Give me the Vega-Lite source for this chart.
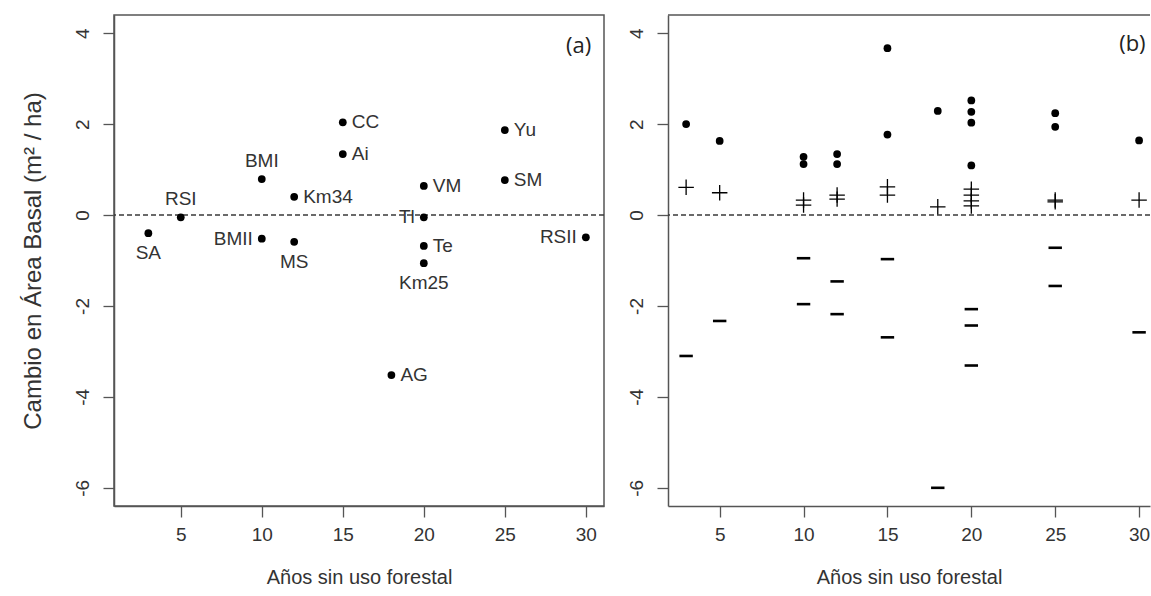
{
  "$schema": "https://vega.github.io/schema/vega-lite/v6.json",
  "background": "white",
  "padding": {"left": 20, "top": 14, "right": 0, "bottom": 0},
  "spacing": 20,
  "config": {
    "font": "Liberation Sans",
    "view": {"stroke": "#555555", "strokeWidth": 1.5},
    "axis": {
      "grid": false,
      "domain": true,
      "domainColor": "#555555",
      "domainWidth": 1.5,
      "tickColor": "#555555",
      "tickWidth": 1.3,
      "tickSize": 11,
      "labelFont": "Liberation Sans",
      "labelFontSize": 19,
      "labelColor": "#333333",
      "titleFont": "Liberation Sans",
      "titleFontSize": 20,
      "titleFontWeight": "normal",
      "titleColor": "#333333"
    },
    "axisY": {"labelAngle": 270, "labelAlign": "center", "labelBaseline": "alphabetic", "labelPadding": 15, "titlePadding": 28, "titleFontSize": 24, "labelExpr": "'' + datum.value"},
    "axisX": {"labelPadding": 8, "titlePadding": 23}
  },
  "datasets": {
    "sitios": [
      {"sitio": "SA", "anos": 3, "cambio": -0.40},
      {"sitio": "RSI", "anos": 5, "cambio": -0.05},
      {"sitio": "BMI", "anos": 10, "cambio": 0.79},
      {"sitio": "BMII", "anos": 10, "cambio": -0.52},
      {"sitio": "Km34", "anos": 12, "cambio": 0.40},
      {"sitio": "MS", "anos": 12, "cambio": -0.59},
      {"sitio": "CC", "anos": 15, "cambio": 2.04},
      {"sitio": "Ai", "anos": 15, "cambio": 1.34},
      {"sitio": "AG", "anos": 18, "cambio": -3.52},
      {"sitio": "VM", "anos": 20, "cambio": 0.64},
      {"sitio": "Tl", "anos": 20, "cambio": -0.05},
      {"sitio": "Te", "anos": 20, "cambio": -0.68},
      {"sitio": "Km25", "anos": 20, "cambio": -1.06},
      {"sitio": "Yu", "anos": 25, "cambio": 1.87},
      {"sitio": "SM", "anos": 25, "cambio": 0.77},
      {"sitio": "RSII", "anos": 30, "cambio": -0.49}
    ],
    "componentes": [
      {"tipo": "crecimiento", "anos": 3, "cambio": 2.00},
      {"tipo": "crecimiento", "anos": 5, "cambio": 1.63},
      {"tipo": "crecimiento", "anos": 10, "cambio": 1.28},
      {"tipo": "crecimiento", "anos": 10, "cambio": 1.12},
      {"tipo": "crecimiento", "anos": 12, "cambio": 1.34},
      {"tipo": "crecimiento", "anos": 12, "cambio": 1.12},
      {"tipo": "crecimiento", "anos": 15, "cambio": 3.67},
      {"tipo": "crecimiento", "anos": 15, "cambio": 1.77},
      {"tipo": "crecimiento", "anos": 18, "cambio": 2.29},
      {"tipo": "crecimiento", "anos": 20, "cambio": 2.52},
      {"tipo": "crecimiento", "anos": 20, "cambio": 2.27},
      {"tipo": "crecimiento", "anos": 20, "cambio": 2.03},
      {"tipo": "crecimiento", "anos": 20, "cambio": 1.09},
      {"tipo": "crecimiento", "anos": 25, "cambio": 2.24},
      {"tipo": "crecimiento", "anos": 25, "cambio": 1.94},
      {"tipo": "crecimiento", "anos": 30, "cambio": 1.64},
      {"tipo": "reclutamiento", "anos": 3, "cambio": 0.61},
      {"tipo": "reclutamiento", "anos": 5, "cambio": 0.49},
      {"tipo": "reclutamiento", "anos": 10, "cambio": 0.33},
      {"tipo": "reclutamiento", "anos": 10, "cambio": 0.22},
      {"tipo": "reclutamiento", "anos": 12, "cambio": 0.44},
      {"tipo": "reclutamiento", "anos": 12, "cambio": 0.35},
      {"tipo": "reclutamiento", "anos": 15, "cambio": 0.62},
      {"tipo": "reclutamiento", "anos": 15, "cambio": 0.44},
      {"tipo": "reclutamiento", "anos": 18, "cambio": 0.18},
      {"tipo": "reclutamiento", "anos": 20, "cambio": 0.57},
      {"tipo": "reclutamiento", "anos": 20, "cambio": 0.44},
      {"tipo": "reclutamiento", "anos": 20, "cambio": 0.31},
      {"tipo": "reclutamiento", "anos": 20, "cambio": 0.20},
      {"tipo": "reclutamiento", "anos": 25, "cambio": 0.33},
      {"tipo": "reclutamiento", "anos": 25, "cambio": 0.29},
      {"tipo": "reclutamiento", "anos": 30, "cambio": 0.33},
      {"tipo": "mortalidad", "anos": 3, "cambio": -3.10},
      {"tipo": "mortalidad", "anos": 5, "cambio": -2.33},
      {"tipo": "mortalidad", "anos": 10, "cambio": -0.95},
      {"tipo": "mortalidad", "anos": 10, "cambio": -1.96},
      {"tipo": "mortalidad", "anos": 12, "cambio": -1.46},
      {"tipo": "mortalidad", "anos": 12, "cambio": -2.18},
      {"tipo": "mortalidad", "anos": 15, "cambio": -0.97},
      {"tipo": "mortalidad", "anos": 15, "cambio": -2.69},
      {"tipo": "mortalidad", "anos": 18, "cambio": -6.00},
      {"tipo": "mortalidad", "anos": 20, "cambio": -2.07},
      {"tipo": "mortalidad", "anos": 20, "cambio": -2.43},
      {"tipo": "mortalidad", "anos": 20, "cambio": -3.31},
      {"tipo": "mortalidad", "anos": 25, "cambio": -0.72},
      {"tipo": "mortalidad", "anos": 25, "cambio": -1.56},
      {"tipo": "mortalidad", "anos": 30, "cambio": -2.58}
    ],
    "uno": [{"panel": "unico"}]
  },
  "hconcat": [
    {
      "width": 490,
      "height": 491,
      "layer": [
        {
          "data": {"name": "uno"},
          "mark": {"type": "rule", "color": "#3a3a3a", "strokeWidth": 1.4, "strokeDash": [5, 3]},
          "encoding": {"y": {"datum": 0, "type": "quantitative"}}
        },
        {
          "data": {"name": "sitios"},
          "mark": {"type": "point", "shape": "circle", "filled": true, "size": 60, "color": "black", "opacity": 1},
          "encoding": {
            "x": {"field": "anos", "type": "quantitative", "scale": {"domain": [0.88, 31.12], "nice": false, "zero": false}, "axis": {"values": [5, 10, 15, 20, 25, 30], "title": "Años sin uso forestal"}},
            "y": {"field": "cambio", "type": "quantitative", "scale": {"domain": [-6.4, 4.4], "nice": false, "zero": false}, "axis": {"values": [-6, -4, -2, 0, 2, 4], "title": "Cambio en Área Basal (m² / ha)"}}
          }
        },
        {
          "data": {"name": "sitios"},
          "transform": [{"filter": "indexof(['Km34','CC','Ai','VM','Te','Yu','SM','AG'], datum.sitio) >= 0"}],
          "mark": {"type": "text", "align": "left", "baseline": "middle", "dx": 9, "fontSize": 19, "color": "#333333"},
          "encoding": {"x": {"field": "anos", "type": "quantitative"}, "y": {"field": "cambio", "type": "quantitative"}, "text": {"field": "sitio"}}
        },
        {
          "data": {"name": "sitios"},
          "transform": [{"filter": "indexof(['BMII','Tl','RSII'], datum.sitio) >= 0"}],
          "mark": {"type": "text", "align": "right", "baseline": "middle", "dx": -9, "fontSize": 19, "color": "#333333"},
          "encoding": {"x": {"field": "anos", "type": "quantitative"}, "y": {"field": "cambio", "type": "quantitative"}, "text": {"field": "sitio"}}
        },
        {
          "data": {"name": "sitios"},
          "transform": [{"filter": "indexof(['RSI','BMI'], datum.sitio) >= 0"}],
          "mark": {"type": "text", "align": "center", "baseline": "middle", "dy": -18, "fontSize": 19, "color": "#333333"},
          "encoding": {"x": {"field": "anos", "type": "quantitative"}, "y": {"field": "cambio", "type": "quantitative"}, "text": {"field": "sitio"}}
        },
        {
          "data": {"name": "sitios"},
          "transform": [{"filter": "indexof(['SA','MS','Km25'], datum.sitio) >= 0"}],
          "mark": {"type": "text", "align": "center", "baseline": "middle", "dy": 20, "fontSize": 19, "color": "#333333"},
          "encoding": {"x": {"field": "anos", "type": "quantitative"}, "y": {"field": "cambio", "type": "quantitative"}, "text": {"field": "sitio"}}
        },
        {
          "data": {"name": "uno"},
          "mark": {"type": "text", "text": "(a)", "font": "Open Sans", "fontWeight": "normal", "fontSize": 22, "color": "#222222", "align": "center", "baseline": "middle"},
          "encoding": {"x": {"datum": 29.55, "type": "quantitative"}, "y": {"datum": 3.72, "type": "quantitative"}}
        }
      ]
    },
    {
      "width": 482,
      "height": 491,
      "view": {"stroke": null},
      "layer": [
        {
          "data": {"name": "uno"},
          "mark": {"type": "rule", "color": "#3a3a3a", "strokeWidth": 1.4, "strokeDash": [5, 3]},
          "encoding": {"y": {"datum": 0, "type": "quantitative"}}
        },
        {
          "data": {"name": "uno"},
          "mark": {"type": "rule", "color": "#555555", "strokeWidth": 1.5},
          "encoding": {"y": {"datum": 4.4, "type": "quantitative"}}
        },
        {
          "data": {"name": "componentes"},
          "transform": [{"filter": "datum.tipo == 'crecimiento'"}],
          "mark": {"type": "point", "shape": "circle", "filled": true, "size": 60, "color": "black", "opacity": 1},
          "encoding": {
            "x": {"field": "anos", "type": "quantitative", "scale": {"domain": [1.92, 30.65], "nice": false, "zero": false}, "axis": {"values": [5, 10, 15, 20, 25, 30], "title": "Años sin uso forestal"}},
            "y": {"field": "cambio", "type": "quantitative", "scale": {"domain": [-6.4, 4.4], "nice": false, "zero": false}, "axis": {"values": [-6, -4, -2, 0, 2, 4], "title": null}}
          }
        },
        {
          "data": {"name": "componentes"},
          "transform": [{"filter": "datum.tipo == 'reclutamiento'"}],
          "mark": {"type": "point", "shape": "M-1,0H1M0,-1V1", "filled": false, "size": 240, "color": "black", "strokeWidth": 1.3, "opacity": 1},
          "encoding": {"x": {"field": "anos", "type": "quantitative"}, "y": {"field": "cambio", "type": "quantitative"}}
        },
        {
          "data": {"name": "componentes"},
          "transform": [{"filter": "datum.tipo == 'mortalidad'"}],
          "mark": {"type": "point", "shape": "M-1,0H1", "filled": false, "size": 180, "color": "black", "strokeWidth": 2.6, "opacity": 1},
          "encoding": {"x": {"field": "anos", "type": "quantitative"}, "y": {"field": "cambio", "type": "quantitative"}}
        },
        {
          "data": {"name": "uno"},
          "mark": {"type": "text", "text": "(b)", "font": "Open Sans", "fontWeight": "normal", "fontSize": 22, "color": "#222222", "align": "center", "baseline": "middle"},
          "encoding": {"x": {"datum": 29.6, "type": "quantitative"}, "y": {"datum": 3.77, "type": "quantitative"}}
        }
      ]
    }
  ]
}
